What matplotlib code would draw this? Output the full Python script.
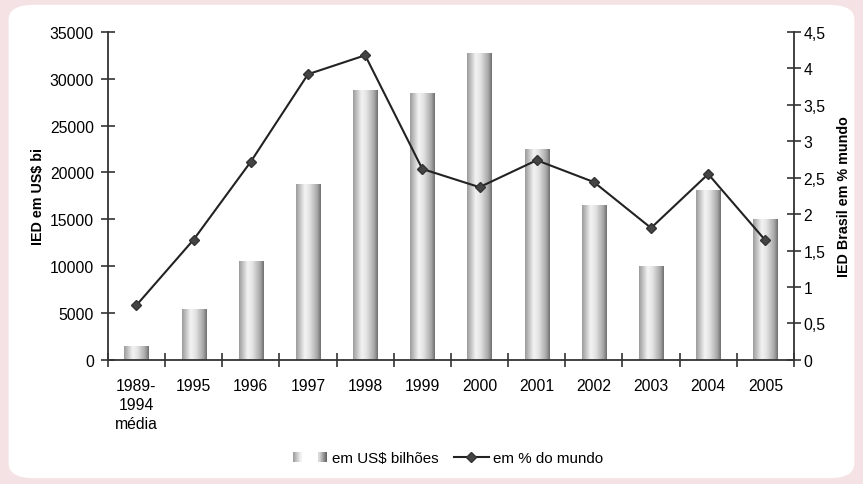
import numpy as np
import matplotlib
matplotlib.use("Agg")
import matplotlib.pyplot as plt
from matplotlib.patches import FancyBboxPatch, Patch, Rectangle
from matplotlib.lines import Line2D
from matplotlib.colors import LinearSegmentedColormap
from matplotlib.ticker import FuncFormatter, FixedLocator
from matplotlib.legend_handler import HandlerBase

plt.rcParams['font.family'] = ['Liberation Sans', 'DejaVu Sans']

categories = ["1989-\n1994\nmédia", "1995", "1996", "1997", "1998", "1999",
              "2000", "2001", "2002", "2003", "2004", "2005"]
ied_usd = [1500, 5400, 10500, 18800, 28800, 28500, 32800, 22500, 16500, 10000, 18100, 15000]
ied_pct = [0.75, 1.65, 2.72, 3.92, 4.18, 2.62, 2.37, 2.74, 2.44, 1.81, 2.55, 1.64]
left_ticks = [0, 5000, 10000, 15000, 20000, 25000, 30000, 35000]
right_ticks = [0, 0.5, 1, 1.5, 2, 2.5, 3, 3.5, 4, 4.5]

cmap = LinearSegmentedColormap.from_list('cyl', [(0.0, '#9a9a9a'), (0.35, '#f4f4f4'),
                                                  (0.55, '#e2e2e2'), (0.85, '#a8a8a8'),
                                                  (1.0, '#6e6e6e')])


class GradientHandler(HandlerBase):
    def create_artists(self, legend, orig_handle, xdescent, ydescent, width, height, fontsize, trans):
        arts = []
        sq = height * 0.85
        y0 = -ydescent + (height - sq) / 2
        starts = [-xdescent, -xdescent + width - sq]
        ramps = [('#a0a0a0', '#f0f0f0'), ('#d8d8d8', '#666666')]
        n = 8
        for s, (c0, c1) in zip(starts, ramps):
            cm = LinearSegmentedColormap.from_list('r', [c0, c1])
            for i in range(n):
                r = Rectangle((s + i * sq / n, y0), sq / n * 1.05, sq,
                              facecolor=cm(i / (n - 1)), edgecolor='none', transform=trans)
                arts.append(r)
        return arts


fig = plt.figure(figsize=(8.63, 4.85), dpi=100)
fig.patch.set_facecolor('#f4e2e4')
panel = FancyBboxPatch((0.010, 0.012), 0.980, 0.976, boxstyle="round,pad=0,rounding_size=0.03",
                       transform=fig.transFigure, facecolor='white', edgecolor='none', zorder=-10)
fig.patches.append(panel)

ax = fig.add_axes([0.125, 0.256, 0.795, 0.676])
ax.set_facecolor('none')
x = np.arange(len(categories))
bars = ax.bar(x, ied_usd, width=0.42, color='none', edgecolor='none', zorder=2)

grad = np.linspace(0, 1, 256).reshape(1, -1)
for b in bars:
    x0, w, h = b.get_x(), b.get_width(), b.get_height()
    im = ax.imshow(grad, extent=[x0, x0 + w, 0, h], aspect='auto', cmap=cmap,
                   zorder=2, interpolation='bicubic')
    im.set_clip_path(b)

ax.set_xlim(-0.5, len(categories) - 0.5)
ax.set_ylim(0, 35000)
ax.set_yticks(left_ticks)
ax.yaxis.set_major_formatter(FuncFormatter(lambda v, p: f"{int(v)}"))
ax.set_xticks(x)
ax.set_xticklabels(categories, fontsize=11.3, linespacing=1.35)
ax.xaxis.set_minor_locator(FixedLocator(np.arange(-0.5, len(categories), 1.0)))
ax.tick_params(axis='x', which='major', length=0, pad=13)
ax.tick_params(axis='x', which='minor', length=10, direction='inout', width=1.2, color='#333333')
ax.tick_params(axis='y', length=10, direction='inout', width=1.2, color='#333333', labelsize=11.3, pad=5)
for s in ['top', 'right']:
    ax.spines[s].set_visible(False)
for s in ['left', 'bottom']:
    ax.spines[s].set_linewidth(1.3)
    ax.spines[s].set_color('#333333')
ax.set_ylabel("IED em US$ bi", fontsize=10.3, fontweight='bold', labelpad=3)

ax2 = ax.twinx()
ax2.plot(x, ied_pct, color='#222222', linewidth=1.5, marker='D', markersize=5.5,
         markerfacecolor='#444444', markeredgecolor='#333333', zorder=3)
ax2.set_ylim(0, 4.5)
ax2.set_yticks(right_ticks)
ax2.yaxis.set_major_formatter(FuncFormatter(lambda v, p: (f"{v:g}").replace('.', ',')))
ax2.tick_params(axis='y', length=10, direction='inout', width=1.2, color='#333333', labelsize=11.3, pad=2)
for s in ['top', 'left', 'bottom']:
    ax2.spines[s].set_visible(False)
ax2.spines['right'].set_linewidth(1.3)
ax2.spines['right'].set_color('#333333')
ax2.set_ylabel("IED Brasil em % mundo", fontsize=10.3, fontweight='bold', labelpad=8)

bar_handle = Patch(facecolor='#a8a8a8', edgecolor='none')
handles = [bar_handle,
           Line2D([0], [0], color='#222222', lw=1.5, marker='D', markersize=5,
                  markerfacecolor='#444444', markeredgecolor='#333333')]
fig.legend(handles, ["em US$ bilhões", "em % do mundo"], loc='center',
           bbox_to_anchor=(0.519, 0.053), ncol=2, frameon=False, fontsize=10.9,
           handlelength=2.3, columnspacing=1.0, handletextpad=0.3,
           handler_map={bar_handle: GradientHandler()})

fig.savefig("out.png", dpi=100, facecolor=fig.get_facecolor())
